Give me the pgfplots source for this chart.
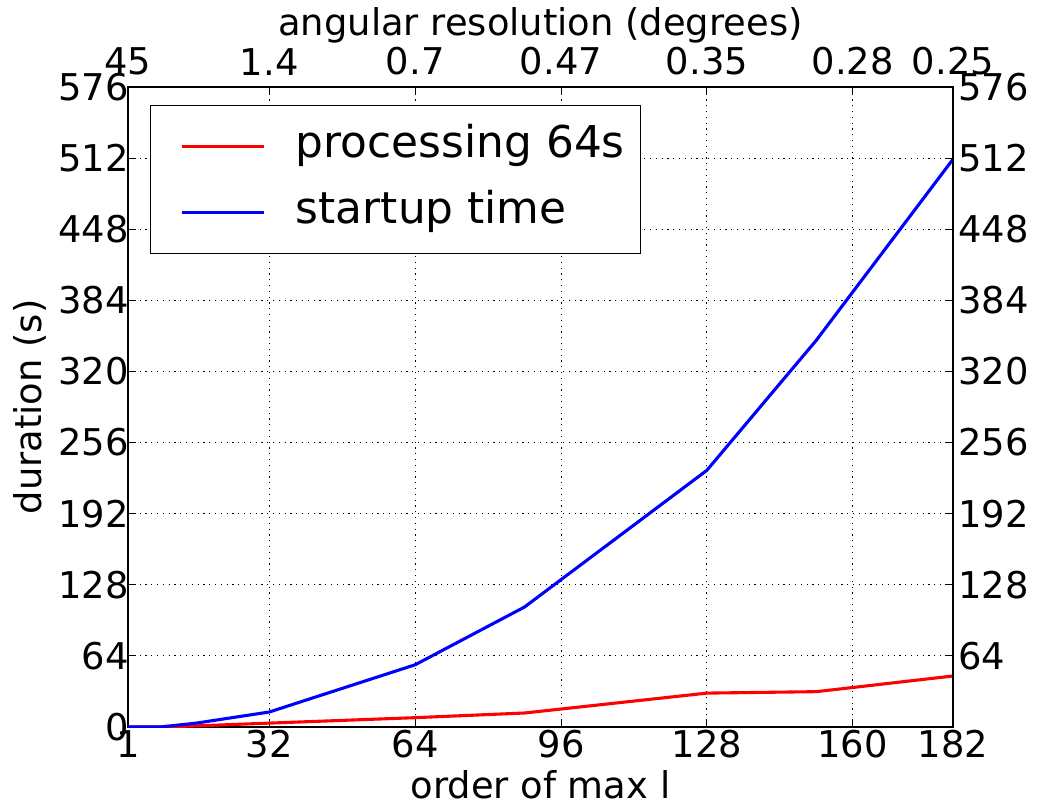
\documentclass[border=0pt]{standalone}
\usepackage{pgfplots}
\pgfplotsset{compat=1.18}
\usepackage{fontspec}
\setmainfont{DejaVu Sans}
\newcommand\tickf{\fontsize{37}{44}\selectfont}
\newcommand\legf{\fontsize{44}{52}\selectfont}
\begin{document}
\begin{tikzpicture}
\pgfplotsset{
  common/.style={
    scale only axis, width=825bp, height=640bp,
    xmin=1, xmax=182, ymin=0, ymax=576,
    xtick={1,32,64,96,128,160,182},
    ytick={0,64,128,192,256,320,384,448,512,576},
    tick align=inside, major tick length=8bp,
    tick style={black, line width=0.8pt},
    /pgf/number format/assume math mode=true,
    tick label style={font=\tickf},
  }
}
\begin{axis}[common, name=ax,
  xticklabels={1,32,64,96,128,160,182},
  yticklabels={0,64,128,192,256,320,384,448,512,576},
  xtick pos=both, ytick pos=both,
  xticklabel pos=bottom, yticklabel pos=left,
  xticklabel style={yshift=0bp},
  yticklabel style={xshift=4bp},
  axis line style={black, line width=1.3pt},
  grid=major, grid style={black, line width=0.9pt, dash pattern=on 1.2bp off 4.6bp},
  xlabel={order of max l}, ylabel={duration (s)},
  every axis x label/.style={at={(axis description cs:0.5,0)}, yshift=-58bp, anchor=center, font=\tickf},
  every axis y label/.style={at={(axis description cs:0,0.5)}, xshift=-98bp, rotate=90, anchor=center, font=\tickf},
  legend style={at={(0.027,0.972)}, anchor=north west, draw=black, line width=1.2pt,
    font=\legf, inner xsep=0bp, inner ysep=19bp, row sep=22bp,
    nodes={inner sep=0pt, text height=33bp, text depth=11bp}, cells={anchor=west}},
  legend image code/.code={\path (0bp,0bp); \draw[#1] (30bp,0bp) -- (112bp,0bp);},
  legend cell align=left,
]
\addplot[red, line width=3.1pt] coordinates {(1,0) (8,0) (16,1) (32,3.5) (64,8.4) (88,12.6) (128,30.5) (152,31.8) (182,45.9)};
\addlegendentry{\kern30bp processing 64s\kern16bp\null}
\addplot[blue, line width=3.1pt] coordinates {(1,0) (8,0) (16,3.5) (32,13.5) (64,56) (88,108) (128,231) (152,348) (182,511)};
\addlegendentry{\kern30bp startup time}
\end{axis}
\begin{axis}[common,
  axis x line*=top, axis y line*=right,
  axis line style={black, line width=1.3pt},
  xticklabels={45,1.4,0.7,0.47,0.35,0.28,0.25},
  ytick={64,128,192,256,320,384,448,512,576},
  yticklabels={64,128,192,256,320,384,448,512,576},
  xticklabel style={yshift=8bp},
  yticklabel style={xshift=2bp},
  xlabel={angular resolution (degrees)},
  every axis x label/.style={at={(axis description cs:0.5,1)}, yshift=62bp, anchor=center, font=\tickf},
]
\end{axis}
\pgfresetboundingbox
\useasboundingbox (ax.south west) ++(-128bp,-78bp) rectangle ++(1037bp,805bp);
\end{tikzpicture}
\end{document}
